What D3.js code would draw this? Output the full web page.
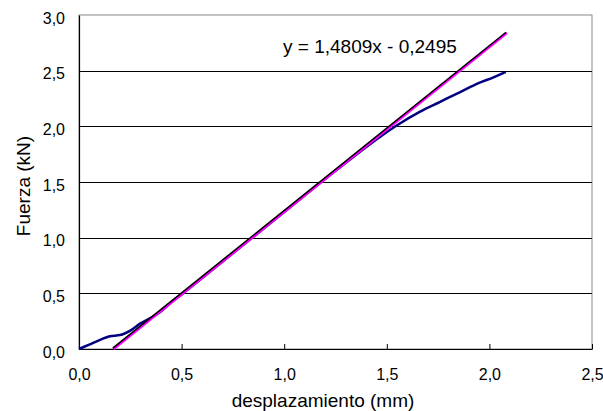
<!DOCTYPE html>
<html>
<head>
<meta charset="utf-8">
<script src="https://cdn.jsdelivr.net/npm/d3@7"></script>
<style>
  body { margin: 0; background: #fff; }
  text { font-family: "Liberation Sans", Arial, sans-serif; fill: #000; }
</style>
</head>
<body>
<div id="chart"></div>
<script>
// ensayo: desplazamiento (mm) vs fuerza (kN)
var despl = [0, 0.05, 0.10, 0.15, 0.20, 0.25, 0.30, 0.35, 0.40, 0.45, 0.50,
  0.75, 1.00, 1.25, 1.47, 1.55, 1.66, 1.76, 1.86, 1.95, 2.02, 2.08];
var fuerza = [0, 0.04, 0.08, 0.115, 0.125, 0.165, 0.23, 0.28, 0.34, 0.42, 0.49,
  0.86, 1.23, 1.60, 1.91, 2.01, 2.13, 2.22, 2.31, 2.39, 2.44, 2.49];

var trendSlope = 1.4809;
var trendIntercept = -0.2495;
var trendX = [-trendIntercept / trendSlope, 2.085];

var xTicks = [0, 0.5, 1.0, 1.5, 2.0, 2.5];
var yTicks = [0, 0.5, 1.0, 1.5, 2.0, 2.5, 3.0];

var width = 603, height = 411;
var margin = {left: 79, right: 11, top: 15, bottom: 62};

var fmt = function(v) { return d3.format('.1f')(v).replace('.', ','); };

var x = d3.scaleLinear().domain([0, 2.5]).range([margin.left, width - margin.right]);
var y = d3.scaleLinear().domain([0, 3]).range([height - margin.bottom, margin.top]);

var svg = d3.select('#chart').append('svg')
  .attr('width', width)
  .attr('height', height);

// frame
svg.append('rect')
  .attr('x', x(0)).attr('y', y(3))
  .attr('width', x(2.5) - x(0)).attr('height', y(0) - y(3))
  .attr('fill', 'none').attr('stroke', '#888').attr('stroke-width', 1);

// horizontal grid
svg.append('g').selectAll('line')
  .data(yTicks.slice(1, -1))
  .enter().append('line')
  .attr('x1', x(0)).attr('x2', x(2.5))
  .attr('y1', function(d) { return Math.round(y(d)) + 0.5; })
  .attr('y2', function(d) { return Math.round(y(d)) + 0.5; })
  .attr('stroke', '#000').attr('stroke-width', 1);

// axes
var xAxis = d3.axisBottom(x).tickValues(xTicks).tickFormat(fmt).tickSizeInner(-5).tickSizeOuter(0).tickPadding(20);
var gx = svg.append('g')
  .attr('transform', 'translate(0,' + y(0) + ')')
  .call(xAxis);
gx.selectAll('text').style('font-size', '16px');

var yAxis = d3.axisLeft(y).tickValues(yTicks).tickFormat(fmt).tickSize(0).tickPadding(14);
var gy = svg.append('g')
  .attr('transform', 'translate(' + x(0) + ',0)')
  .call(yAxis);
gy.selectAll('text').style('font-size', '16px').attr('dy', '0.5em');

[gx, gy].forEach(function(g) {
  g.select('.domain').attr('stroke', '#000').attr('stroke-width', 1.2);
  g.selectAll('.tick line').attr('stroke', '#000');
  g.selectAll('text').attr('font-family', '"Liberation Sans", Arial, sans-serif');
});

// curve
var line = d3.line()
  .x(function(d) { return x(d[0]); })
  .y(function(d) { return y(d[1]); })
  .curve(d3.curveMonotoneX);

svg.append('path')
  .datum(d3.zip(despl, fuerza))
  .attr('d', line)
  .attr('fill', 'none')
  .attr('stroke', '#000080')
  .attr('stroke-width', 2.5);

// trend line
var trendData = trendX.map(function(v) { return [v, trendSlope * v + trendIntercept]; });
svg.append('path')
  .datum(trendData)
  .attr('d', d3.line().x(function(d) { return x(d[0]); }).y(function(d) { return y(d[1]); }))
  .attr('fill', 'none').attr('stroke', '#ff00ff').attr('stroke-width', 2.5);

svg.append('path')
  .datum(trendData)
  .attr('d', d3.line().x(function(d) { return x(d[0]) - 0.8; }).y(function(d) { return y(d[1]) - 0.8; }))
  .attr('fill', 'none').attr('stroke', '#000').attr('stroke-width', 1.5);

// equation
svg.append('text')
  .attr('x', 283).attr('y', 52.5)
  .style('font-size', '19px')
  .text('y = 1,4809x - 0,2495');

// titles
svg.append('text')
  .attr('x', 323).attr('y', 407)
  .attr('text-anchor', 'middle')
  .style('font-size', '19px')
  .text('desplazamiento (mm)');

svg.append('text')
  .attr('transform', 'translate(30,186) rotate(-90)')
  .attr('text-anchor', 'middle')
  .style('font-size', '19px')
  .text('Fuerza (kN)');
</script>
</body>
</html>
